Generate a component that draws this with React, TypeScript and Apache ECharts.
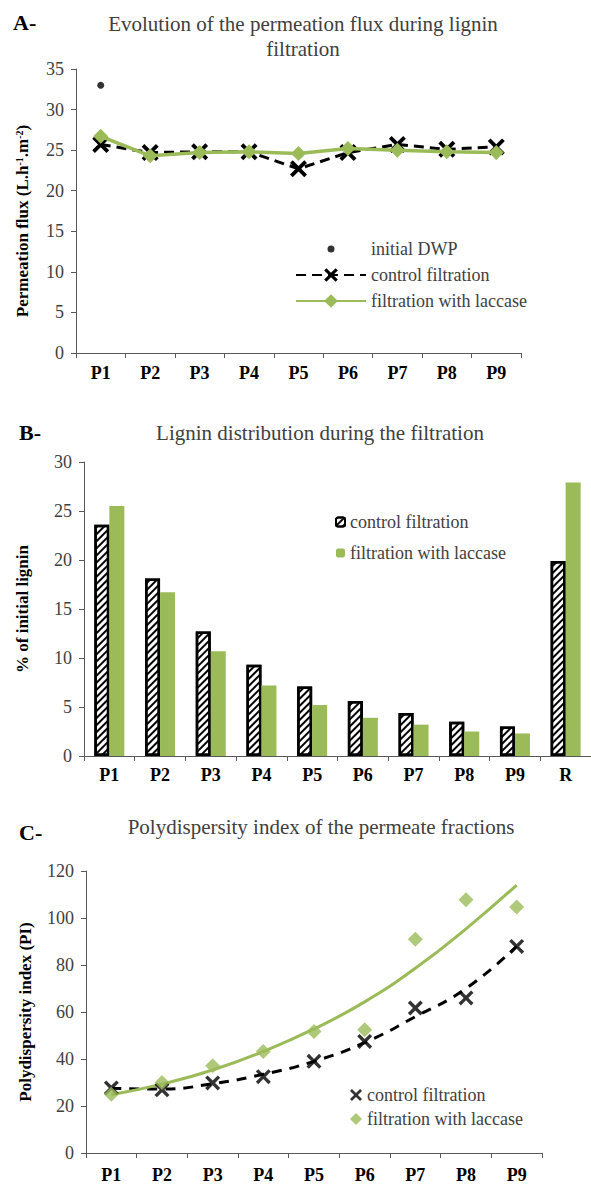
import React, { useEffect, useRef } from "react";
import * as echarts from "echarts";

// ---------- Panel A: permeation flux ----------
const fluxCategories = ["P1", "P2", "P3", "P4", "P5", "P6", "P7", "P8", "P9"];
const fluxInitialDWP = [33, null, null, null, null, null, null, null, null];
const fluxControl = [25.7, 24.7, 24.8, 24.8, 22.7, 24.7, 25.7, 25.1, 25.4];
const fluxLaccase = [26.7, 24.3, 24.7, 24.8, 24.6, 25.2, 25.0, 24.8, 24.7];

// ---------- Panel B: lignin distribution ----------
const ligninCategories = ["P1", "P2", "P3", "P4", "P5", "P6", "P7", "P8", "P9", "R"];
const ligninControl = [23.6, 18.1, 12.7, 9.3, 7.1, 5.6, 4.4, 3.5, 3.0, 19.9];
const ligninLaccase = [25.5, 16.7, 10.7, 7.2, 5.2, 3.9, 3.2, 2.5, 2.3, 27.9];

// ---------- Panel C: polydispersity index ----------
const piCategories = ["P1", "P2", "P3", "P4", "P5", "P6", "P7", "P8", "P9"];
const piControl = [27.7, 26.9, 29.8, 32.5, 39.0, 47.5, 61.7, 66.0, 87.9];
const piLaccase = [25.0, 30.0, 37.1, 43.2, 51.7, 52.5, 91.0, 107.8, 104.7];
const piControlTrend = [27.5, 27.2, 29.5, 33.5, 39.0, 47.0, 58.0, 70.0, 88.0];
const piLaccaseTrend = [24.8, 29.3, 35.3, 43.2, 52.8, 64.3, 78.6, 95.4, 114.0];

const SERIF = "Liberation Serif";
const GREEN = "#9BBB59";
const TXT = "#404040";
const AX = "#595959";
const XSYM =
  "path://M0,1.6L1.6,0L5,3.4L8.4,0L10,1.6L6.6,5L10,8.4L8.4,10L5,6.6L1.6,10L0,8.4L3.4,5Z";
const DOT_ICON = "path://M0,0M70,17M31.5,8.5a3.5,3.5 0 1,0 7,0a3.5,3.5 0 1,0 -7,0Z";

const stripTag = (n: string) => n.replace(/#.$/, "");

function catAxis(gridIndex: number, data: string[], margin: number) {
  return {
    type: "category",
    gridIndex,
    data,
    boundaryGap: true,
    axisLine: { show: true, lineStyle: { color: AX, width: 1 } },
    axisTick: { show: true, alignWithLabel: false, length: 5, lineStyle: { color: AX } },
    axisLabel: {
      fontFamily: SERIF,
      fontWeight: "bold",
      fontSize: 18,
      color: "#000",
      margin,
    },
    splitLine: { show: false },
  };
}

function valAxis(
  gridIndex: number,
  max: number,
  interval: number,
  name: any,
  nameGap: number,
  rich?: any,
  padding?: number[]
) {
  return {
    type: "value",
    gridIndex,
    min: 0,
    max,
    interval,
    name,
    nameLocation: "middle",
    nameRotate: 90,
    nameGap,
    nameTextStyle: {
      fontFamily: SERIF,
      fontWeight: "bold",
      fontSize: 17,
      color: "#000",
      rich,
      padding: padding || [0, 0, 0, 0],
    },
    axisLine: { show: true, lineStyle: { color: AX, width: 1 } },
    axisTick: { show: true, inside: false, length: 5, lineStyle: { color: AX } },
    axisLabel: { fontFamily: SERIF, fontSize: 18, color: TXT, margin: 12 },
    splitLine: { show: false },
  };
}

export default function App() {
  const ref = useRef<HTMLDivElement>(null);
  useEffect(() => {
    if (!ref.current) return;
    const chart = echarts.init(ref.current, undefined, { renderer: "svg" });

    const richA = {
      b: { fontFamily: SERIF, fontWeight: "bold", fontSize: 17, color: "#000" },
      s: { fontFamily: SERIF, fontWeight: "bold", fontSize: 10, color: "#000", verticalAlign: "top" },
    };

    const titleText = { fontFamily: SERIF, fontSize: 21, fontWeight: "normal", color: TXT };
    const letterText = { fontFamily: SERIF, fontSize: 22, fontWeight: "bold", color: "#000" };
    const legendText = { fontFamily: SERIF, fontSize: 18, color: TXT };

    const option: any = {
      animation: false,
      backgroundColor: "#fff",
      textStyle: { fontFamily: SERIF },
      title: [
        { text: "A-", left: 13, top: 11, padding: 0, textStyle: letterText },
        {
          text: "Evolution of the permeation flux during lignin\nfiltration",
          left: 303,
          top: 11,
          padding: 0,
          textAlign: "center",
          textStyle: { ...titleText, lineHeight: 25 },
        },
        { text: "B-", left: 19, top: 421, padding: 0, textStyle: letterText },
        {
          text: "Lignin distribution during the filtration",
          left: 320,
          top: 420,
          padding: 0,
          textAlign: "center",
          textStyle: { ...titleText, lineHeight: 25 },
        },
        { text: "C-", left: 19, top: 821, padding: 0, textStyle: letterText },
        {
          text: "Polydispersity index of the permeate fractions",
          left: 321,
          top: 814,
          padding: 0,
          textAlign: "center",
          textStyle: { ...titleText, lineHeight: 25 },
        },
      ],
      legend: [
        {
          data: [
            { name: "initial DWP#A", icon: DOT_ICON },
            "control filtration#A",
            "filtration with laccase#A",
          ],
          formatter: stripTag,
          left: 295,
          top: 240,
          padding: 0,
          orient: "vertical",
          itemWidth: 70,
          itemHeight: 17,
          itemGap: 8,
          textStyle: legendText,
          selectedMode: false,
        },
        {
          data: ["control filtration#B", "filtration with laccase#B"],
          formatter: stripTag,
          left: 335,
          top: 513,
          padding: 0,
          orient: "vertical",
          itemWidth: 9,
          itemHeight: 9,
          itemGap: 13,
          textStyle: legendText,
          selectedMode: false,
        },
        {
          data: ["control filtration#C", "filtration with laccase#C"],
          formatter: stripTag,
          left: 350,
          top: 1086,
          padding: 0,
          orient: "vertical",
          itemWidth: 12,
          itemHeight: 12,
          itemGap: 6,
          textStyle: legendText,
          selectedMode: false,
        },
      ],
      grid: [
        { left: 76, top: 69, width: 445, height: 284 },
        { left: 84, top: 462, width: 511, height: 294 },
        { left: 86, top: 871, width: 456, height: 282 },
      ],
      xAxis: [
        catAxis(0, fluxCategories, 11),
        catAxis(1, ligninCategories, 10),
        catAxis(2, piCategories, 13),
      ],
      yAxis: [
        valAxis(0, 35, 5, "{b|Permeation flux (L.h}{s|-1}{b|.m}{s|-2}{b|)}", 45, richA, [0, 20, 0, 0]),
        valAxis(1, 30, 5, "% of initial lignin", 53),
        valAxis(2, 120, 20, "Polydispersity index (PI)", 52),
      ],
      series: [
        // Panel A
        {
          name: "initial DWP#A",
          type: "scatter",
          xAxisIndex: 0,
          yAxisIndex: 0,
          data: fluxInitialDWP,
          symbol: "circle",
          symbolSize: 7,
          itemStyle: { color: "#000" },
        },
        {
          name: "control filtration#A",
          type: "line",
          xAxisIndex: 0,
          yAxisIndex: 0,
          data: fluxControl,
          symbol: XSYM,
          symbolSize: 17,
          itemStyle: { color: "#000" },
          lineStyle: { color: "#000", width: 3, type: [10, 6] },
          z: 2,
        },
        {
          name: "filtration with laccase#A",
          type: "line",
          xAxisIndex: 0,
          yAxisIndex: 0,
          data: fluxLaccase,
          symbol: "diamond",
          symbolSize: 15,
          itemStyle: { color: GREEN },
          lineStyle: { color: GREEN, width: 3.5 },
          z: 3,
        },
        // Panel B
        {
          name: "control filtration#B",
          type: "bar",
          xAxisIndex: 1,
          yAxisIndex: 1,
          data: ligninControl,
          barWidth: 15,
          barGap: "0%",
          itemStyle: {
            color: "#fff",
            borderColor: "#000",
            borderWidth: 2.5,
            decal: {
              symbol: "rect",
              symbolSize: 1,
              rotation: -Math.PI / 4,
              dashArrayX: [1, 0],
              dashArrayY: [1.2, 2.8],
              color: "#000",
              backgroundColor: "#fff",
            },
          },
        },
        {
          name: "filtration with laccase#B",
          type: "bar",
          xAxisIndex: 1,
          yAxisIndex: 1,
          data: ligninLaccase,
          barWidth: 15,
          barGap: "0%",
          itemStyle: { color: GREEN },
        },
        // Panel C
        {
          name: "control trend",
          type: "line",
          xAxisIndex: 2,
          yAxisIndex: 2,
          data: piControlTrend,
          smooth: true,
          symbol: "none",
          lineStyle: { color: "#000", width: 3, type: [10, 8] },
          z: 1,
        },
        {
          name: "laccase trend",
          type: "line",
          xAxisIndex: 2,
          yAxisIndex: 2,
          data: piLaccaseTrend,
          smooth: true,
          symbol: "none",
          lineStyle: { color: GREEN, width: 3 },
          z: 1,
        },
        {
          name: "control filtration#C",
          type: "scatter",
          xAxisIndex: 2,
          yAxisIndex: 2,
          data: piControl,
          symbol: XSYM,
          symbolSize: 15,
          itemStyle: { color: "#000" },
          z: 3,
        },
        {
          name: "filtration with laccase#C",
          type: "scatter",
          xAxisIndex: 2,
          yAxisIndex: 2,
          data: piLaccase,
          symbol: "diamond",
          symbolSize: 15,
          itemStyle: { color: GREEN },
          z: 3,
        },
      ],
    };

    chart.setOption(option);
    return () => chart.dispose();
  }, []);

  return (
    <div
      ref={ref}
      style={{ position: "absolute", left: 0, top: 0, width: 591, height: 1189, background: "#fff" }}
    />
  );
}
